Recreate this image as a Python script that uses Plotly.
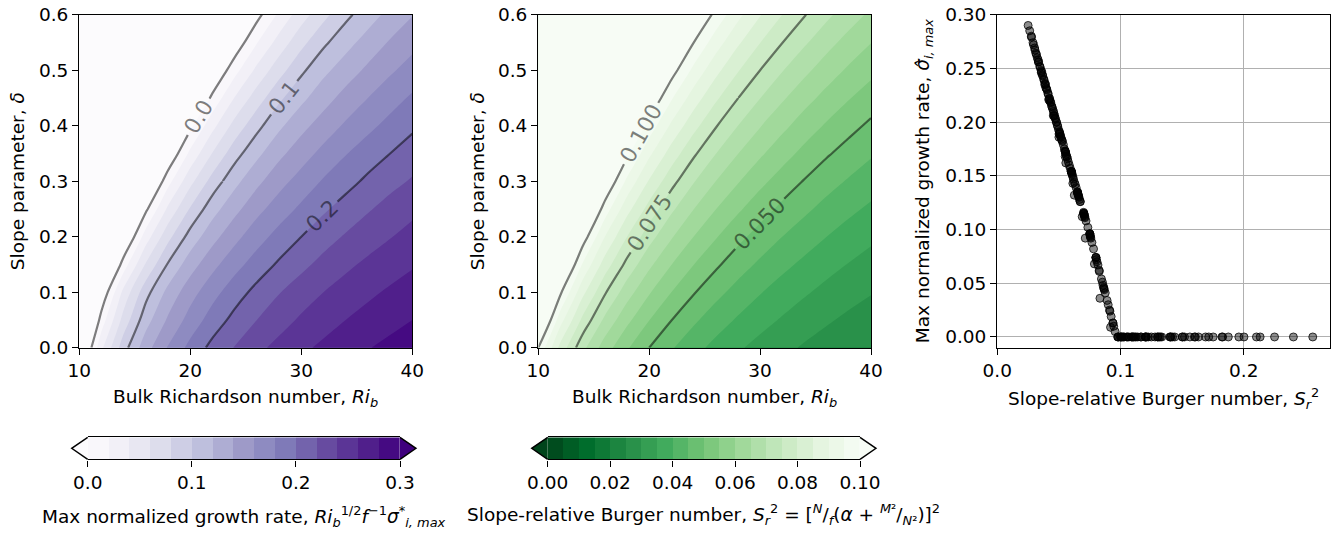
import numpy as np
import plotly.graph_objects as go
from plotly.colors import sample_colorscale, sequential

# ---------------------------------------------------------------------------
# Parameter grid: bulk Richardson number (columns) and slope parameter (rows)
# ---------------------------------------------------------------------------
ri_b = [10, 12, 14, 16, 18, 20, 22, 24, 26, 28, 30, 32, 34, 36, 38, 40]
delta = [0.0, 0.05, 0.1, 0.15, 0.2, 0.25, 0.3, 0.35, 0.4, 0.45, 0.5, 0.55, 0.6]

# Max normalized growth rate Ri_b^{1/2} f^{-1} sigma*_{i,max}
# (negative entries are the damped, symmetrically stable part of the grid)
growth_rate = [
    [-0.043, 0.036, 0.092, 0.132, 0.162, 0.186, 0.206, 0.221, 0.235, 0.246, 0.256, 0.264, 0.272, 0.279, 0.285, 0.290],
    [-0.075, 0.009, 0.068, 0.112, 0.143, 0.168, 0.189, 0.206, 0.220, 0.232, 0.243, 0.252, 0.260, 0.267, 0.274, 0.280],
    [-0.107, -0.018, 0.046, 0.093, 0.126, 0.152, 0.173, 0.191, 0.206, 0.219, 0.230, 0.240, 0.248, 0.256, 0.263, 0.269],
    [-0.156, -0.059, 0.010, 0.062, 0.102, 0.131, 0.154, 0.173, 0.189, 0.203, 0.215, 0.226, 0.236, 0.244, 0.251, 0.258],
    [-0.208, -0.102, -0.027, 0.030, 0.074, 0.108, 0.133, 0.154, 0.172, 0.187, 0.200, 0.212, 0.222, 0.231, 0.239, 0.247],
    [-0.262, -0.147, -0.065, -0.004, 0.044, 0.082, 0.112, 0.134, 0.154, 0.170, 0.184, 0.197, 0.208, 0.218, 0.227, 0.235],
    [-0.318, -0.194, -0.105, -0.039, 0.013, 0.054, 0.088, 0.114, 0.135, 0.153, 0.168, 0.182, 0.193, 0.204, 0.214, 0.222],
    [-0.376, -0.243, -0.147, -0.075, -0.020, 0.025, 0.061, 0.092, 0.115, 0.135, 0.151, 0.166, 0.179, 0.190, 0.200, 0.210],
    [-0.437, -0.293, -0.190, -0.113, -0.053, -0.005, 0.034, 0.067, 0.094, 0.116, 0.134, 0.149, 0.163, 0.175, 0.186, 0.196],
    [-0.500, -0.345, -0.235, -0.152, -0.088, -0.037, 0.005, 0.041, 0.070, 0.096, 0.115, 0.132, 0.147, 0.160, 0.172, 0.183],
    [-0.565, -0.400, -0.282, -0.193, -0.124, -0.069, -0.024, 0.013, 0.045, 0.072, 0.096, 0.115, 0.130, 0.144, 0.157, 0.168],
    [-0.632, -0.456, -0.330, -0.235, -0.162, -0.103, -0.055, -0.015, 0.019, 0.048, 0.074, 0.096, 0.113, 0.128, 0.142, 0.154],
    [-0.701, -0.513, -0.379, -0.278, -0.200, -0.137, -0.086, -0.043, -0.007, 0.024, 0.051, 0.074, 0.095, 0.111, 0.126, 0.139],
]

# Slope-relative Burger number S_r^2 on the same grid
burger = [
    [0.1000, 0.0833, 0.0714, 0.0625, 0.0556, 0.0500, 0.0455, 0.0417, 0.0385, 0.0357, 0.0333, 0.0313, 0.0294, 0.0278, 0.0263, 0.0250],
    [0.1103, 0.0919, 0.0788, 0.0689, 0.0613, 0.0551, 0.0501, 0.0459, 0.0424, 0.0394, 0.0368, 0.0345, 0.0324, 0.0306, 0.0290, 0.0276],
    [0.1210, 0.1008, 0.0864, 0.0756, 0.0672, 0.0605, 0.0550, 0.0504, 0.0465, 0.0432, 0.0403, 0.0378, 0.0356, 0.0336, 0.0318, 0.0303],
    [0.1323, 0.1102, 0.0945, 0.0827, 0.0735, 0.0661, 0.0601, 0.0551, 0.0509, 0.0472, 0.0441, 0.0413, 0.0389, 0.0367, 0.0348, 0.0331],
    [0.1440, 0.1200, 0.1029, 0.0900, 0.0800, 0.0720, 0.0655, 0.0600, 0.0554, 0.0514, 0.0480, 0.0450, 0.0424, 0.0400, 0.0379, 0.0360],
    [0.1563, 0.1302, 0.1116, 0.0977, 0.0868, 0.0781, 0.0710, 0.0651, 0.0601, 0.0558, 0.0521, 0.0488, 0.0460, 0.0434, 0.0411, 0.0391],
    [0.1690, 0.1408, 0.1207, 0.1056, 0.0939, 0.0845, 0.0768, 0.0704, 0.0650, 0.0604, 0.0563, 0.0528, 0.0497, 0.0469, 0.0445, 0.0423],
    [0.1823, 0.1519, 0.1302, 0.1139, 0.1013, 0.0911, 0.0828, 0.0759, 0.0701, 0.0651, 0.0608, 0.0570, 0.0536, 0.0506, 0.0480, 0.0456],
    [0.1960, 0.1633, 0.1400, 0.1225, 0.1089, 0.0980, 0.0891, 0.0817, 0.0754, 0.0700, 0.0653, 0.0613, 0.0576, 0.0544, 0.0516, 0.0490],
    [0.2103, 0.1752, 0.1502, 0.1314, 0.1168, 0.1051, 0.0956, 0.0876, 0.0809, 0.0751, 0.0701, 0.0657, 0.0618, 0.0584, 0.0553, 0.0526],
    [0.2250, 0.1875, 0.1607, 0.1406, 0.1250, 0.1125, 0.1023, 0.0938, 0.0865, 0.0804, 0.0750, 0.0703, 0.0662, 0.0625, 0.0592, 0.0563],
    [0.2403, 0.2002, 0.1716, 0.1502, 0.1335, 0.1201, 0.1092, 0.1001, 0.0924, 0.0858, 0.0801, 0.0751, 0.0707, 0.0667, 0.0632, 0.0601],
    [0.2560, 0.2133, 0.1829, 0.1600, 0.1422, 0.1280, 0.1164, 0.1067, 0.0985, 0.0914, 0.0853, 0.0800, 0.0753, 0.0711, 0.0674, 0.0640],
]

# Filled-contour levels
growth_levels = [round(0.02 * i, 2) for i in range(16)]        # 0.00 ... 0.30
burger_levels = [round(0.005 * i, 3) for i in range(21)]       # 0.000 ... 0.100

# Labelled contour lines: (level, slope-parameter range carrying the inline label)
growth_lines = [(0.0, (0.0, 0.6)), (0.1, (0.3, 0.6)), (0.2, (0.0, 0.6))]
burger_lines = [(0.1, (0.0, 0.6)), (0.075, (0.0, 0.45)), (0.05, (0.0, 0.6))]

growth_cbar_ticks = [0.0, 0.1, 0.2, 0.3]
burger_cbar_ticks = [0.0, 0.02, 0.04, 0.06, 0.08, 0.10]
panel_xticks = [10, 20, 30, 40]
panel_yticks = [0.0, 0.1, 0.2, 0.3, 0.4, 0.5, 0.6]
scatter_xticks = [0.0, 0.1, 0.2]
scatter_yticks = [0.0, 0.05, 0.10, 0.15, 0.20, 0.25, 0.30]

# ---------------------------------------------------------------------------
# Geometry (pixels) and styling
# ---------------------------------------------------------------------------
W, H = 1343, 533
FONT = "DejaVu Sans"
FS = 18.5
LABEL_FS = 22
LINE_RGBA = "rgba(0,0,0,0.5)"
AX_LW = 1.4


def px_x(p):
    return p / W


def px_y(p):
    return 1 - p / H


panel_x = [(79.3, 412.3), (538.3, 871.0), (997.3, 1330.0)]
panel_y = (14.7, 347.7)
cbar_x = [(87.7, 400.0), (547.7, 860.0)]
cbar_y = (437.3, 459.3)
TRI = 16.0  # length of the extend triangles


def band_colorscale(colors, levels):
    """Colorscale that gives every contour band the colour of its midpoint,
    with the extreme colours used below the first and above the last level."""
    base = [[i / (len(colors) - 1), c] for i, c in enumerate(colors)]
    n_lv = len(levels)
    n_band = n_lv - 1
    mids = [(k + 0.5) / n_band for k in range(n_band)]
    cols = sample_colorscale(base, [0.0] + mids + [1.0])
    return [[j / n_lv, c] for j, c in enumerate(cols)], cols[0], cols[-1]


purples = list(sequential.Purples)
greens_r = list(sequential.Greens)[::-1]
growth_cs, growth_under, growth_over = band_colorscale(purples, growth_levels)
burger_cs, burger_under, burger_over = band_colorscale(greens_r, burger_levels)

fig = go.Figure()


def filled(z, levels, cs, xa, ya):
    step = levels[1] - levels[0]
    return go.Contour(
        x=ri_b, y=delta, z=z, xaxis=xa, yaxis=ya, autocontour=False,
        contours=dict(start=levels[0], end=levels[-1], size=step,
                      coloring="fill", showlines=False),
        colorscale=cs, line=dict(width=0), showscale=False, hoverinfo="skip")


def line_piece(z, level, rows, labelled, fmt, xa, ya):
    """One contour level drawn over a band of grid rows."""
    r0, r1 = rows
    return go.Contour(
        x=ri_b, y=delta[r0:r1], z=z[r0:r1], xaxis=xa, yaxis=ya, autocontour=False,
        contours=dict(start=level, end=level, size=1, coloring="none",
                      showlabels=labelled, labelformat=fmt,
                      labelfont=dict(family=FONT, size=LABEL_FS, color=LINE_RGBA)),
        line=dict(color=LINE_RGBA, width=2.2), showscale=False, hoverinfo="skip")


def add_lines(z, lines, fmt, xa, ya):
    n = len(delta)
    for level, (d0, d1) in lines:
        i0 = delta.index(d0)
        i1 = delta.index(d1) + 1
        fig.add_trace(line_piece(z, level, (i0, i1), True, fmt, xa, ya))
        if i0 > 0:
            fig.add_trace(line_piece(z, level, (0, i0 + 1), False, fmt, xa, ya))
        if i1 < n:
            fig.add_trace(line_piece(z, level, (i1 - 1, n), False, fmt, xa, ya))


# --- Panel 1: growth rate -------------------------------------------------
fig.add_trace(filled(growth_rate, growth_levels, growth_cs, "x", "y"))
add_lines(growth_rate, growth_lines, ".1f", "x", "y")

# --- Panel 2: slope-relative Burger number ---------------------------------
fig.add_trace(filled(burger, burger_levels, burger_cs, "x2", "y2"))
add_lines(burger, burger_lines, ".3f", "x2", "y2")

# --- Panel 3: growth rate against Burger number ----------------------------
s_pts = np.asarray(burger).ravel()
g_pts = np.clip(np.asarray(growth_rate).ravel(), 0.0, None)
fig.add_trace(go.Scatter(
    x=s_pts, y=g_pts, mode="markers", xaxis="x3", yaxis="y3",
    marker=dict(symbol="circle", size=8, color="rgba(0,0,0,0.45)",
                line=dict(color="rgba(0,0,0,0.75)", width=1)),
    hoverinfo="skip", showlegend=False,
))

# --- Colour bars ------------------------------------------------------------
for levels, cs, xa, ya in [(growth_levels, growth_cs, "x4", "y4"),
                           (burger_levels, burger_cs, "x5", "y5")]:
    step = levels[1] - levels[0]
    mids = [(a + b) / 2 for a, b in zip(levels[:-1], levels[1:])]
    fig.add_trace(go.Heatmap(
        x=levels, y=[0, 1], z=[mids], xaxis=xa, yaxis=ya,
        colorscale=cs, zmin=levels[0] - step / 2, zmax=levels[-1] + step / 2,
        showscale=False, hoverinfo="skip",
    ))

tickfont = dict(family=FONT, size=FS, color="black")
frame = dict(showline=True, mirror=True, linecolor="black", linewidth=AX_LW,
             ticks="outside", ticklen=6, tickwidth=AX_LW, tickcolor="black",
             zeroline=False, tickfont=tickfont, automargin=False)

layout = dict(
    width=W, height=H,
    margin=dict(l=0, r=0, t=0, b=0, pad=0, autoexpand=False),
    paper_bgcolor="white", plot_bgcolor="white", showlegend=False,
    font=dict(family=FONT, size=FS, color="black"),
)

for i, (x0, x1) in enumerate(panel_x):
    sx = "" if i == 0 else str(i + 1)
    layout["xaxis" + sx] = dict(domain=[px_x(x0), px_x(x1)], anchor="y" + sx,
                                showgrid=False, **frame)
    layout["yaxis" + sx] = dict(domain=[px_y(panel_y[1]), px_y(panel_y[0])],
                                anchor="x" + sx, showgrid=False, **frame)

for sx in ["", "2"]:
    layout["xaxis" + sx].update(range=[ri_b[0], ri_b[-1]], tickvals=panel_xticks)
    layout["yaxis" + sx].update(range=[delta[0], delta[-1]], tickvals=panel_yticks,
                                tickformat=".1f")

layout["xaxis3"].update(range=[0, 0.27], tickvals=scatter_xticks, tickformat=".1f",
                        showgrid=True, gridcolor="#b0b0b0", gridwidth=AX_LW)
layout["yaxis3"].update(range=[-0.01, 0.30], tickvals=scatter_yticks, tickformat=".2f",
                        showgrid=True, gridcolor="#b0b0b0", gridwidth=AX_LW)

for n, (x0, x1), levels, ticks, fmt in [
        (4, cbar_x[0], growth_levels, growth_cbar_ticks, ".1f"),
        (5, cbar_x[1], burger_levels, burger_cbar_ticks, ".2f")]:
    layout[f"xaxis{n}"] = dict(domain=[px_x(x0), px_x(x1)], anchor=f"y{n}",
                               range=[levels[0], levels[-1]], tickvals=ticks,
                               tickformat=fmt, showgrid=False,
                               ticklabelstandoff=0, **frame)
    layout[f"yaxis{n}"] = dict(domain=[px_y(cbar_y[1]), px_y(cbar_y[0])],
                               anchor=f"x{n}", range=[0, 1], visible=False,
                               automargin=False)

# Extend triangles on both ends of each colour bar
shapes = []
ymid = (cbar_y[0] + cbar_y[1]) / 2
for (x0, x1), lo, hi in [(cbar_x[0], growth_under, growth_over),
                         (cbar_x[1], burger_under, burger_over)]:
    for xe, tip, col in [(x0, x0 - TRI, lo), (x1, x1 + TRI, hi)]:
        path = (f"M {px_x(xe)},{px_y(cbar_y[0])} L {px_x(tip)},{px_y(ymid)} "
                f"L {px_x(xe)},{px_y(cbar_y[1])}")
        shapes.append(dict(type="path", xref="paper", yref="paper", path=path,
                           fillcolor=col, line=dict(color="black", width=AX_LW),
                           layer="above"))
layout["shapes"] = shapes


# Axis and colour-bar titles
def note(text, x, y, angle=0):
    return dict(text=text, x=px_x(x), y=px_y(y), xref="paper", yref="paper",
                showarrow=False, textangle=angle, xanchor="center", yanchor="middle",
                font=dict(family=FONT, size=FS, color="black"))


ymid_panel = (panel_y[0] + panel_y[1]) / 2
layout["annotations"] = [
    note("Bulk Richardson number, <i>Ri</i><sub><i>b</i></sub>",
         sum(panel_x[0]) / 2, 398),
    note("Bulk Richardson number, <i>Ri</i><sub><i>b</i></sub>",
         sum(panel_x[1]) / 2, 398),
    note("Slope-relative Burger number, <i>S</i><sub><i>r</i></sub><sup>2</sup>",
         sum(panel_x[2]) / 2, 398),
    note("Slope parameter, <i>δ</i>", 17, ymid_panel, -90),
    note("Slope parameter, <i>δ</i>", 477, ymid_panel, -90),
    note("Max normalized growth rate, <i>σ̂</i><sub><i>i, max</i></sub>",
         924, ymid_panel, -90),
    note("Max normalized growth rate, <i>Ri</i><sub><i>b</i></sub><sup>1/2</sup>"
         "<i>f</i><sup>−1</sup><i>σ</i><sup>*</sup><sub><i>i, max</i></sub>",
         sum(cbar_x[0]) / 2, 516),
    note("Slope-relative Burger number, <i>S</i><sub><i>r</i></sub><sup>2</sup> = "
         "[<sup><i>N</i></sup>/<sub><i>f</i></sub>(<i>α</i> + "
         "<sup><i>M</i>²</sup>/<sub><i>N</i>²</sub>)]<sup>2</sup>",
         sum(cbar_x[1]) / 2, 514),
]

fig.update_layout(**layout)
fig.write_html("out.html")
